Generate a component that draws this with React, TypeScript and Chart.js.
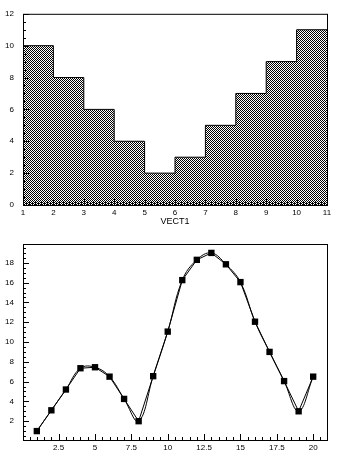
import React, { useEffect, useRef } from 'react';
import { Chart, registerables } from 'chart.js';
Chart.register(...registerables);

// ---- Histogram (top) ----
const histBinEdges = [1, 2, 3, 4, 5, 6, 7, 8, 9, 10, 11];
const histValues = [10, 8, 6, 4, 2, 3, 5, 7, 9, 11];
const histXTicks = [1, 2, 3, 4, 5, 6, 7, 8, 9, 10, 11];
const histYTicks = [0, 2, 4, 6, 8, 10, 12];
const histXTitle = 'VECT1';

// ---- Graph (bottom) ----
const graphX = [1, 2, 3, 4, 5, 6, 7, 8, 9, 10, 11, 12, 13, 14, 15, 16, 17, 18, 19, 20];
const graphY = [1.0, 3.1, 5.2, 7.35, 7.45, 6.5, 4.25, 2.0, 6.55, 11.05, 16.25, 18.3, 19.0, 17.85, 16.05, 12.05, 9.0, 6.05, 3.0, 6.5];
const graphXTicks = [2.5, 5, 7.5, 10, 12.5, 15, 17.5, 20];
const graphYTicks = [2, 4, 6, 8, 10, 12, 14, 16, 18];

const FONT = { family: "'Liberation Sans', Arial, sans-serif", size: 8 };

const rootFrame = {
  id: 'rootFrame',
  afterDatasetsDraw(chart: any, _args: any, opts: any) {
    const { ctx, chartArea: a } = chart;
    const xs = chart.scales.x;
    const ys = chart.scales.y;
    ctx.save();
    ctx.strokeStyle = '#000';
    ctx.lineWidth = 1;
    ctx.beginPath();
    const ticksAlong = (scale: any, base: number, step: number, len: number, horiz: boolean) => {
      const start = Math.ceil((scale.min - base) / step - 1e-9) * step + base;
      for (let i = 0; ; i++) {
        const v = start + i * step;
        if (v > scale.max + 1e-9) break;
        const p = Math.round(scale.getPixelForValue(v)) + 0.5;
        if (horiz) {
          ctx.moveTo(p, a.bottom);
          ctx.lineTo(p, a.bottom - len);
        } else {
          ctx.moveTo(a.left, p);
          ctx.lineTo(a.left + len, p);
        }
      }
    };
    ticksAlong(xs, opts.xBase, opts.xMinor, opts.minorLen, true);
    ticksAlong(xs, opts.xBase, opts.xMajor, opts.majorLen, true);
    ticksAlong(ys, opts.yBase, opts.yMinor, opts.minorLen, false);
    ticksAlong(ys, opts.yBase, opts.yMajor, opts.majorLen, false);
    ctx.stroke();
    ctx.strokeRect(a.left + 0.5, a.top + 0.5, a.right - a.left, a.bottom - a.top);
    ctx.restore();
  },
};

function makePattern(ctx: CanvasRenderingContext2D) {
  const pc = document.createElement('canvas');
  pc.width = 4;
  pc.height = 4;
  const p = pc.getContext('2d')!;
  p.fillStyle = '#fff';
  p.fillRect(0, 0, 4, 4);
  p.fillStyle = '#000';
  p.fillRect(0, 0, 1, 1);
  p.fillRect(1, 1, 1, 1);
  p.fillRect(2, 2, 1, 1);
  p.fillRect(3, 3, 1, 1);
  p.fillRect(2, 0, 1, 1);
  p.fillRect(3, 1, 1, 1);
  p.fillRect(0, 2, 1, 1);
  p.fillRect(1, 3, 1, 1);
  return ctx.createPattern(pc, 'repeat');
}

export default function App() {
  const topRef = useRef<HTMLCanvasElement>(null);
  const botRef = useRef<HTMLCanvasElement>(null);

  useEffect(() => {
    const tctx = topRef.current!.getContext('2d')!;
    const pattern = makePattern(tctx);
    const stepData = histBinEdges.map((e, i) => ({
      x: e,
      y: i < histValues.length ? histValues[i] : histValues[histValues.length - 1],
    }));

    const top = new Chart(topRef.current!, {
      type: 'line',
      data: {
        datasets: [
          {
            data: stepData,
            stepped: 'before',
            borderColor: '#000',
            borderWidth: 1,
            backgroundColor: pattern as any,
            fill: 'origin',
            pointRadius: 0,
          } as any,
        ],
      },
      options: {
        animation: false,
        responsive: false,
        events: [],
        layout: { padding: { left: 0, top: 12, right: 25, bottom: 0 } },
        plugins: {
          legend: { display: false },
          tooltip: { enabled: false },
          rootFrame: { xBase: 1, xMajor: 1, xMinor: 0.1, yBase: 0, yMajor: 2, yMinor: 0.5, majorLen: 6, minorLen: 3 },
        } as any,
        scales: {
          x: {
            type: 'linear',
            min: 1,
            max: 11,
            grid: { display: false, drawTicks: false },
            border: { display: false },
            afterBuildTicks: (s: any) => {
              s.ticks = histXTicks.map((v) => ({ value: v }));
            },
            afterFit: (s: any) => {
              s.height = 25;
            },
            ticks: { padding: 3, font: FONT, color: '#000', maxRotation: 0, autoSkip: false, callback: (v: any) => String(v) },
            title: { display: true, text: histXTitle, font: { ...FONT, size: 9 }, color: '#000', padding: { top: 0, bottom: 3 } },
          },
          y: {
            type: 'linear',
            min: 0,
            max: 12,
            grid: { display: false, drawTicks: false },
            border: { display: false },
            afterBuildTicks: (s: any) => {
              s.ticks = histYTicks.map((v) => ({ value: v }));
            },
            afterFit: (s: any) => {
              s.width = 23;
            },
            ticks: { padding: 9, font: FONT, color: '#000', autoSkip: false, callback: (v: any) => String(v) },
          },
        },
      },
      plugins: [rootFrame],
    } as any);

    const pts = graphX.map((x, i) => ({ x, y: graphY[i] }));
    const bot = new Chart(botRef.current!, {
      type: 'line',
      data: {
        datasets: [
          {
            data: pts,
            borderColor: '#000',
            borderWidth: 1,
            tension: 0,
            pointStyle: 'rect',
            pointRadius: 4.5,
            pointBackgroundColor: '#000',
            pointBorderWidth: 0,
            fill: false,
          },
          {
            data: pts,
            borderColor: '#000',
            borderWidth: 1,
            tension: 0.4,
            pointRadius: 0,
            fill: false,
          },
        ],
      },
      options: {
        animation: false,
        responsive: false,
        events: [],
        layout: { padding: { left: 0, top: 14, right: 25, bottom: 0 } },
        plugins: {
          legend: { display: false },
          tooltip: { enabled: false },
          rootFrame: { xBase: 0, xMajor: 2.5, xMinor: 0.5, yBase: 0, yMajor: 2, yMinor: 0.5, majorLen: 6, minorLen: 3 },
        } as any,
        scales: {
          x: {
            type: 'linear',
            min: 0.05,
            max: 20.95,
            grid: { display: false, drawTicks: false },
            border: { display: false },
            afterBuildTicks: (s: any) => {
              s.ticks = graphXTicks.map((v) => ({ value: v }));
            },
            afterFit: (s: any) => {
              s.height = 30;
            },
            ticks: { padding: 3, font: FONT, color: '#000', maxRotation: 0, autoSkip: false, callback: (v: any) => String(v) },
          },
          y: {
            type: 'linear',
            min: 0.1,
            max: 19.9,
            grid: { display: false, drawTicks: false },
            border: { display: false },
            afterBuildTicks: (s: any) => {
              s.ticks = graphYTicks.map((v) => ({ value: v }));
            },
            afterFit: (s: any) => {
              s.width = 23;
            },
            ticks: { padding: 9, font: FONT, color: '#000', autoSkip: false, callback: (v: any) => String(v) },
          },
        },
      },
      plugins: [rootFrame],
    } as any);

    return () => {
      top.destroy();
      bot.destroy();
    };
  }, []);

  return (
    <div style={{ position: 'fixed', left: 0, top: 0, width: 352, height: 470, background: '#fff' }}>
      <canvas ref={topRef} width={352} height={230} style={{ display: 'block', position: 'absolute', left: 0, top: 0 }} />
      <canvas ref={botRef} width={352} height={240} style={{ display: 'block', position: 'absolute', left: 0, top: 230 }} />
    </div>
  );
}
